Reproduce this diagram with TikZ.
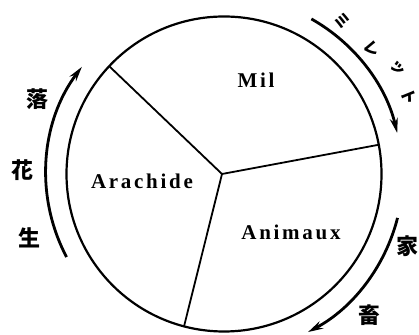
\documentclass[tikz,border=0pt]{standalone}
\usepackage{fontspec}
\setmainfont{Liberation Serif}
\newfontfamily\jpfont{Noto Sans CJK JP}
\usetikzlibrary{arrows.meta,calc}
\begin{document}
\begin{tikzpicture}[x=1pt,y=1pt,
  lab/.style={inner sep=0pt,font=\fontsize{21}{21}\selectfont\bfseries\addfontfeature{LetterSpace=13}},
  jpc/.style={inner sep=0pt,font=\jpfont\bfseries\fontsize{22}{22}\selectfont},
  kana/.style={inner sep=0pt,font=\jpfont\bfseries\fontsize{16}{16}\selectfont},
  flow/.style={line width=2.8pt,-{Stealth[length=15pt,width=8pt]}},
  rim/.style={line width=2.2pt},
  spoke/.style={line width=1.8pt}]
\useasboundingbox (0,0) rectangle (419,334);
\coordinate (O) at (224,160);
\coordinate (J) at (222,160);
\draw[rim] (O) circle[radius=157.5pt];
\coordinate (s1) at ($(O)+(136.8:157.5)$);
\coordinate (s2) at ($(O)+(10.7:157.5)$);
\coordinate (s3) at ($(O)+(255.3:157.5)$);
\draw[spoke] (J) -- (s1);
\draw[spoke] (J) -- (s2);
\draw[spoke] (J) -- (s3);
% outer arrows
\coordinate (a1) at ($(O)+(207.8:178)$);
\draw[flow] (a1) arc[start angle=207.8, end angle=143, radius=178pt];
\coordinate (a2) at ($(O)+(60.6:178)$);
\draw[flow] (a2) arc[start angle=60.6, end angle=13.3, radius=178pt];
\coordinate (a3) at ($(O)+(-14.2:179)$);
\draw[flow] (a3) arc[start angle=-14.2, end angle=-62, radius=179pt];
% labels
\node[lab] (mil) at (256,254) {Mil};
\node[lab] (ara) at (142,153) {Arachide};
\node[lab] (ani) at (291,102) {Animaux};
% Japanese
\node[jpc] (k1) at (37,235) {落};
\node[jpc] (k2) at (22,164) {花};
\node[jpc] (k3) at (29,96) {生};
\node[kana,rotate=-38] (m1) at (342,313) {ミ};
\node[kana,rotate=-50] (m2) at (372,285) {レ};
\node[kana,rotate=-58] (m3) at (397,266) {ッ};
\node[kana,rotate=-68] (m4) at (409,237) {ト};
\node[jpc] (c1) at (407,88) {家};
\node[jpc] (c2) at (369,19) {畜};
\end{tikzpicture}
\end{document}
